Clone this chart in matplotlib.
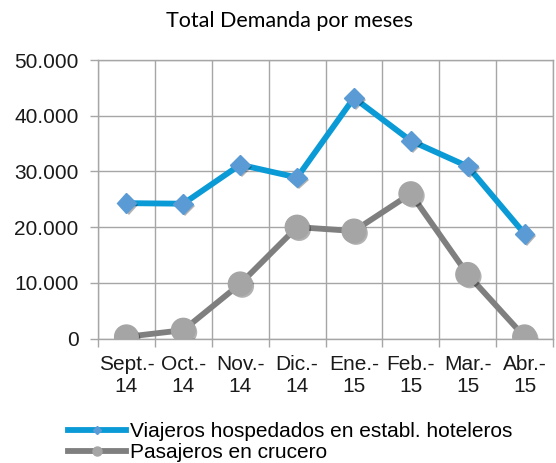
import matplotlib
matplotlib.use("Agg")
import matplotlib.pyplot as plt
import matplotlib.patheffects as pe
from matplotlib.lines import Line2D
from matplotlib.ticker import FuncFormatter, MultipleLocator
import numpy as np

# meses (etiquetas del eje x)
meses = ["Sept.-\n14", "Oct.-\n14", "Nov.-\n14", "Dic.-\n14",
         "Ene.-\n15", "Feb.-\n15", "Mar.-\n15", "Abr.-\n15"]

# valores
hoteleros = [24300, 24200, 31200, 28900, 43200, 35500, 30900, 18800]
crucero = [300, 1500, 9800, 20000, 19300, 26000, 11500, 300]

nombre_hoteleros = "Viajeros hospedados en establ. hoteleros"
nombre_crucero = "Pasajeros en crucero"

azul_linea = "#0a9ad6"
azul_marca = "#5b9bd5"
gris_linea = "#7f7f7f"
gris_marca = "#a5a5a5"
rejilla = "#a6a6a6"

plt.rcParams["font.family"] = ["Liberation Sans", "DejaVu Sans"]

fig = plt.figure(figsize=(5.56, 4.63), dpi=100)
ax = fig.add_axes([98 / 556, 1 - 338.5 / 463, 455 / 556, 278.5 / 463])

x = np.arange(len(meses))
sombra = [pe.SimplePatchShadow(offset=(1.5, -1.5), shadow_rgbFace="black", alpha=0.3), pe.Normal()]

ax.plot(x, hoteleros, color=azul_linea, linewidth=4.2, zorder=3)
ax.plot(x, hoteleros, linestyle="none", marker="D", markersize=10,
        markerfacecolor=azul_marca, markeredgecolor=azul_marca, zorder=4, path_effects=sombra)
ax.plot(x, crucero, color=gris_linea, linewidth=4.2, zorder=3)
ax.plot(x, crucero, linestyle="none", marker="o", markersize=17,
        markerfacecolor=gris_marca, markeredgecolor=gris_marca, zorder=4, path_effects=sombra)

ax.set_xlim(-0.5, len(meses) - 0.5)
ax.set_ylim(0, 50000)
ax.yaxis.set_major_locator(MultipleLocator(10000))
ax.yaxis.set_major_formatter(FuncFormatter(lambda v, p: f"{int(v):,}".replace(",", ".")))

ax.set_xticks(x)
ax.set_xticklabels(meses)
ax.set_xticks(np.arange(-0.5, len(meses)), minor=True)

ax.tick_params(axis="x", which="major", length=0, pad=12, labelsize=15, colors="#1a1a1a")
ax.tick_params(axis="x", which="minor", length=6, width=1, color=rejilla)
ax.tick_params(axis="y", which="major", length=6, width=1, color=rejilla, pad=8, labelsize=15, labelcolor="#1a1a1a")
for lab in ax.get_xticklabels():
    lab.set_linespacing(1.2)

ax.grid(True, axis="y", which="major", color=rejilla, linewidth=1)
ax.grid(True, axis="x", which="minor", color=rejilla, linewidth=1)
ax.set_axisbelow(True)
for s in ax.spines.values():
    s.set_color(rejilla)
    s.set_linewidth(1)

fig.text(289.7 / 556, 1 - 21 / 463, "Total Demanda por meses", ha="center", va="center",
         fontsize=15.5, family=["Lato", "DejaVu Sans"], color="black")

handles = [
    Line2D([], [], color=azul_linea, linewidth=4.2, marker="D", markersize=4.5,
           markerfacecolor=azul_marca, markeredgecolor=azul_marca),
    Line2D([], [], color=gris_linea, linewidth=4.2, marker="o", markersize=6.5,
           markerfacecolor=gris_marca, markeredgecolor=gris_marca),
]
fig.legend(handles, [nombre_hoteleros, nombre_crucero], loc="center left",
           bbox_to_anchor=(68 / 556, 1 - 442 / 463), frameon=False, fontsize=15,
           handlelength=2.8, handletextpad=0.2, labelspacing=0.1, borderpad=0, borderaxespad=0)

fig.savefig("out.png", dpi=100)
